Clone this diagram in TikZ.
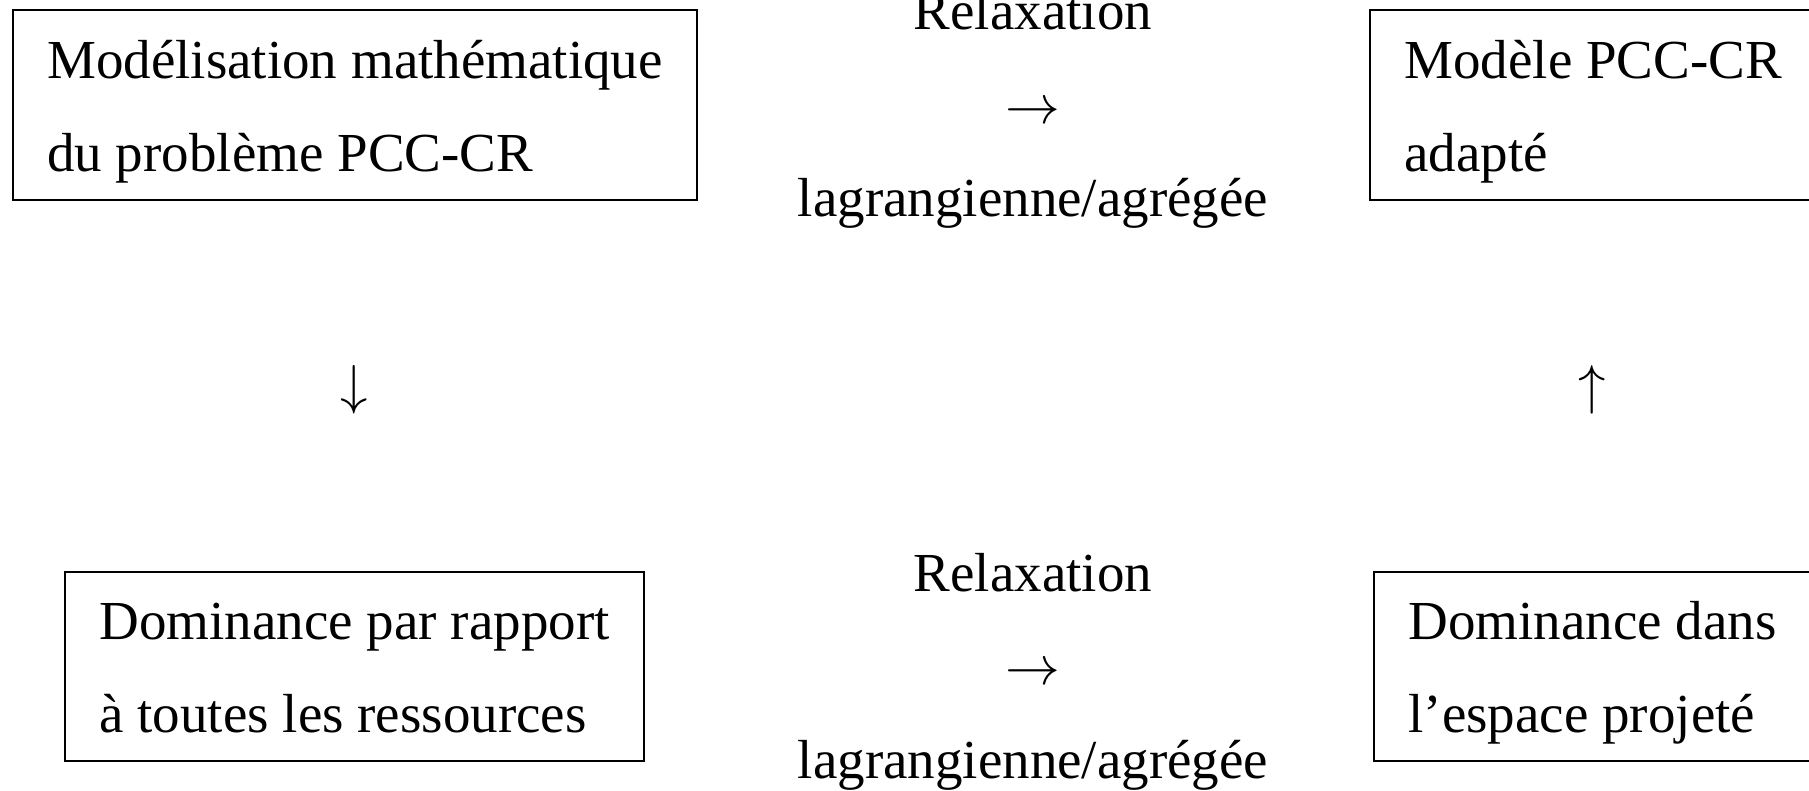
\documentclass[tikz,border=0pt]{standalone}
\usepackage{fontspec}
\setmainfont{Liberation Serif}
\begin{document}
\begin{tikzpicture}[x=0.2pt,y=-0.2pt,
  boxnode/.style={draw, line width=0.4pt, inner xsep=6.9pt, inner ysep=0pt,
    align=left, anchor=base west, text height=32.2pt, text depth=5.7pt,
    font=\fontsize{11pt}{18.6pt}\selectfont},
  wideboxnode/.style={draw, line width=0.4pt, inner xsep=6.9pt, inner ysep=0pt,
    text width=78pt, align=flush left, anchor=base west, text height=13.6pt, text depth=24.3pt,
    font=\fontsize{11pt}{18.6pt}\selectfont},
  midlabel/.style={align=center, anchor=base, inner sep=0pt,
    font=\fontsize{11pt}{18.7pt}\selectfont},
  vglyph/.style={inner sep=0pt, font=\fontsize{11pt}{13pt}\selectfont}]
\useasboundingbox (0,0) rectangle (1809,790);

\node[boxnode] (model) at (11.7,171) {Modélisation mathématique\\du problème PCC-CR};
\node[wideboxnode] (adapt) at (1369,78) {Modèle PCC-CR\\adapté};
\node[boxnode] (domall) at (64,732.5) {Dominance par rapport\\à toutes les ressources};
\node[wideboxnode] (domproj) at (1373,639.5) {Dominance dans\\l’espace projeté};

\node[midlabel] (relaxtop) at (1033,216.5) {Relaxation\\$\rightarrow$\\lagrangienne/agrégée};
\node[midlabel] (relaxbot) at (1033,778) {Relaxation\\$\rightarrow$\\lagrangienne/agrégée};

\node[vglyph] (down) at (354,390) {$\downarrow$};
\node[vglyph] (up) at (1592,390) {$\uparrow$};
\end{tikzpicture}
\end{document}
